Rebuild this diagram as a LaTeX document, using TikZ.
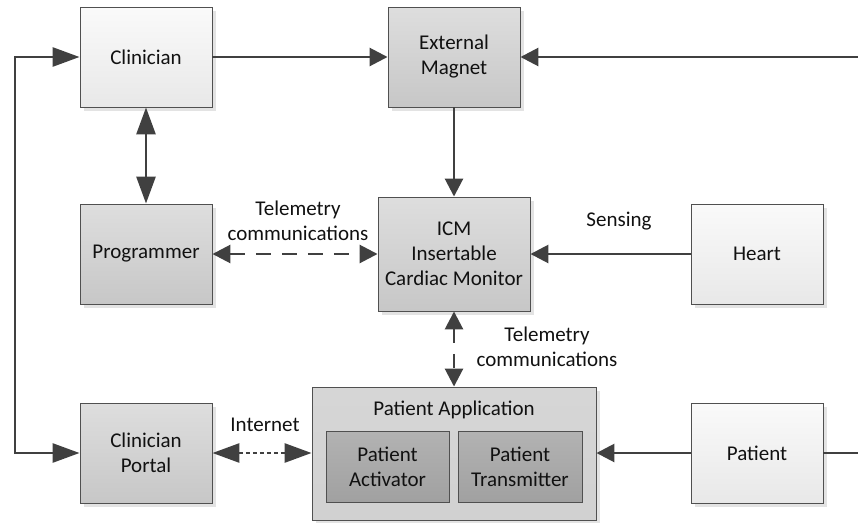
\documentclass[tikz,border=0pt]{standalone}
\usepackage{fontspec}
\setmainfont{Carlito}
\usetikzlibrary{arrows.meta,shadows}
\definecolor{linec}{HTML}{404040}
\definecolor{bordc}{HTML}{505050}
\definecolor{txtc}{HTML}{111111}
\tikzset{
  box/.style={draw=bordc, line width=0.9pt, align=center, text=txtc, inner sep=0pt,
    minimum width=132pt, minimum height=100pt,
    drop shadow={shadow xshift=4pt, shadow yshift=-4pt, fill=black!11, opacity=1}},
  lightbox/.style={box, top color=white!98!black, bottom color=black!9},
  graybox/.style={box, top color=black!13, bottom color=black!22},
  outerbox/.style={box, top color=black!16, bottom color=black!18},
  darkbox/.style={draw=bordc, line width=0.9pt, align=center, text=txtc, inner sep=0pt,
    top color=black!30, bottom color=black!37},
  conn/.style={draw=linec, line width=2.8pt},
  sm/.style={conn, -{Triangle[length=18pt,width=18pt]}},
  smboth/.style={conn, {Triangle[length=18pt,width=18pt]}-{Triangle[length=18pt,width=18pt]}},
  bigboth/.style={conn, {Triangle[length=27pt,width=19pt]}-{Triangle[length=27pt,width=19pt]}},
  lab/.style={align=center, text=txtc},
}
\begin{document}
\begin{tikzpicture}[x=1pt, y=-1pt, font=\fontsize{21}{25}\selectfont]
\useasboundingbox (0,0) rectangle (858,522);
% nodes
\node[lightbox] (clin) at (146,57) {Clinician};
\node[graybox] (mag) at (454,57) {External\\Magnet};
\node[graybox] (prog) at (146,254) {Programmer};
\node[graybox, minimum width=152pt, minimum height=114pt] (icm) at (454,254) {ICM\\Insertable\\Cardiac Monitor};
\node[lightbox] (heart) at (757,254) {Heart};
\node[graybox] (portal) at (146,453) {Clinician\\Portal};
\node[outerbox, minimum width=284pt, minimum height=133pt] (pa) at (454,453.5) {};
\node[lab] (palab) at (454,410) {Patient Application};
\node[darkbox, minimum width=123pt, minimum height=71pt] (act) at (387.5,466.5) {Patient\\Activator};
\node[darkbox, minimum width=124pt, minimum height=71pt] (tx) at (520,466.5) {Patient\\Transmitter};
\node[lightbox] (pat) at (757,453) {Patient};
% coordinates
\coordinate (lt) at (15,57);
\coordinate (lb) at (15,453);
\coordinate (rt) at (858,57);
\coordinate (rb) at (858,453);
% connectors
\draw[bigboth] (clin.west) -- (lt) -- (lb) -- (portal.west);
\draw[sm] (clin.east) -- (mag.west);
\draw[sm] (rt) -- (mag.east);
\draw[sm] (mag.south) -- (icm.north);
\draw[bigboth] (clin.south) -- (prog.north);
\draw[smboth, dash pattern=on 15pt off 11pt] (prog.east) -- (icm.west);
\draw[sm] (heart.west) -- (icm.east);
\draw[smboth, dash pattern=on 14pt off 11pt] (icm.south) -- (pa.north);
\draw[bigboth, dash pattern=on 4pt off 3pt] (portal.east) -- (portal.east -| pa.west);
\draw[sm] (pat.west) -- (pat.west -| pa.east);
\draw[conn] (pat.east) -- (rb);
% labels
\node[lab] (tl1) at (298,221) {Telemetry\\communications};
\node[lab] (sens) at (619,221) {Sensing};
\node[lab] (tl2) at (547,347) {Telemetry\\communications};
\node[lab] (inet) at (265,425) {Internet};
\end{tikzpicture}
\end{document}
